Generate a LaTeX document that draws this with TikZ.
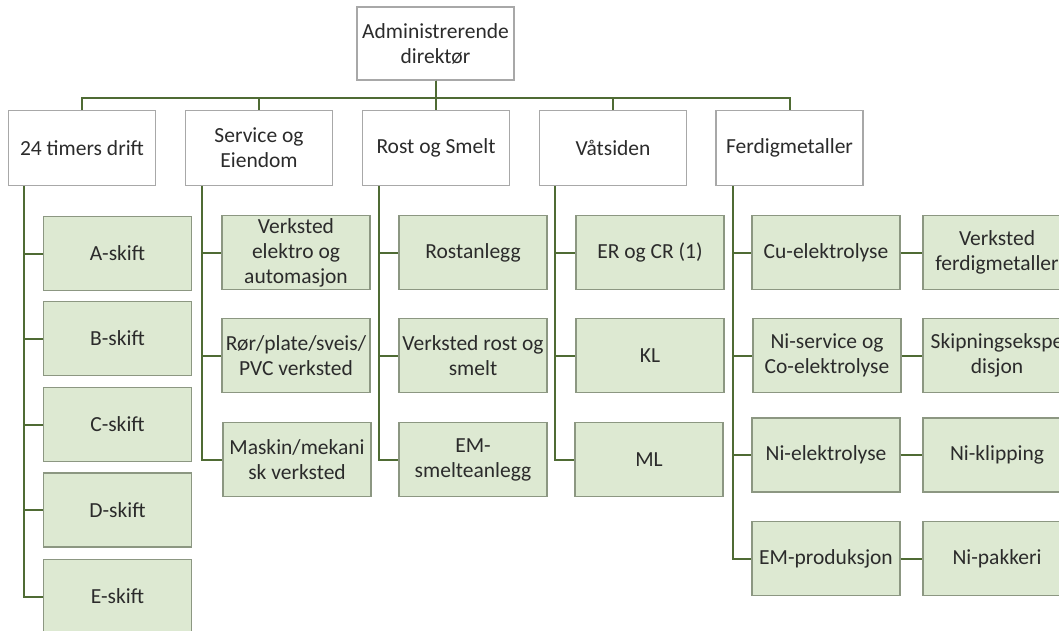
\documentclass[tikz,border=0pt]{standalone}
\usepackage{fontspec}
\setmainfont{Carlito}
\definecolor{txt}{HTML}{2B2B2B}
\definecolor{wborder}{HTML}{A8A8A8}
\definecolor{gborder}{HTML}{8C9782}
\definecolor{gfill}{HTML}{DDE9D2}
\definecolor{orgline}{HTML}{4F6B34}
\begin{document}
\begin{tikzpicture}[x=1pt,y=-1pt,
  font=\fontsize{21.5}{25}\selectfont,
  base/.style={rectangle, align=center, inner sep=2pt, text=txt, line width=1.3pt},
  whitebox/.style={base, draw=wborder, fill=white, minimum width=147pt, minimum height=75pt},
  topbox/.style={whitebox, minimum width=157pt, minimum height=73pt},
  unit/.style={base, draw=gborder, fill=gfill, minimum width=148pt, minimum height=74pt},
  conn/.style={draw=orgline, line width=2pt}]
\useasboundingbox (0,0) rectangle (1059,631);
\clip (0,0) rectangle (1059,631);

% top level
\node[topbox] (top) at (435.5,43.5) {Administrerende\\direktør};

% departments
\node[whitebox] (d1) at (82,148) {24 timers drift};
\node[whitebox] (d2) at (259,148) {Service og\\Eiendom};
\node[whitebox] (d3) at (436,148) {Rost og Smelt};
\node[whitebox] (d4) at (613,148) {Våtsiden};
\node[whitebox] (d5) at (789.5,148) {Ferdigmetaller};

\coordinate (bus) at (0,98);
\foreach \d in {d1,d2,d3,d4,d5}
  \draw[conn] (top.south) -- (top.south |- bus) -| (\d.north);

% 24 timers drift
\node[unit] (a1) at (117.5,253.5) {A-skift};
\node[unit] (a2) at (117.5,338.5) {B-skift};
\node[unit] (a3) at (117.5,424.5) {C-skift};
\node[unit] (a4) at (117.5,510) {D-skift};
\node[unit] (a5) at (117.5,596.5) {E-skift};

% Service og Eiendom
\node[unit] (b1) at (296,252.5) {Verksted\\elektro og\\automasjon};
\node[unit] (b2) at (296,355.5) {Rør/plate/sveis/\\PVC verksted};
\node[unit] (b3) at (297,459.5) {Maskin/mekani\\sk verksted};

% Rost og Smelt
\node[unit] (c1) at (473,252.5) {Rostanlegg};
\node[unit] (c2) at (473,355.5) {Verksted rost og\\smelt};
\node[unit] (c3) at (473,459.5) {EM-\\smelteanlegg};

% Våtsiden
\node[unit] (e1) at (650,252.5) {ER og CR (1)};
\node[unit] (e2) at (650,355.5) {KL};
\node[unit] (e3) at (649,459.5) {ML};

% Ferdigmetaller
\node[unit] (f1) at (826,252.5) {Cu-elektrolyse};
\node[unit] (f2) at (827,355.5) {Ni-service og\\Co-elektrolyse};
\node[unit] (f3) at (826,455) {Ni-elektrolyse};
\node[unit] (f4) at (826,558.5) {EM-produksjon};

\node[unit] (g1) at (997,252.5) {Verksted\\ferdigmetaller};
\node[unit] (g2) at (997,355.5) {Skipningsekspe\\disjon};
\node[unit] (g3) at (997,455) {Ni-klipping};
\node[unit] (g4) at (997,558.5) {Ni-pakkeri};

% branch lines
\coordinate (s1) at (24,186);
\coordinate (s2) at (202,186);
\coordinate (s3) at (379,186);
\coordinate (s4) at (555,186);
\coordinate (s5) at (733,186);
\foreach \c in {a1,a2,a3,a4,a5} \draw[conn] (s1) |- (\c.west);
\foreach \c in {b1,b2,b3} \draw[conn] (s2) |- (\c.west);
\foreach \c in {c1,c2,c3} \draw[conn] (s3) |- (\c.west);
\foreach \c in {e1,e2,e3} \draw[conn] (s4) |- (\c.west);
\foreach \c in {f1,f2,f3,f4} \draw[conn] (s5) |- (\c.west);

\draw[conn] (f1.east) -- (g1.west);
\draw[conn] (f2.east) -- (g2.west);
\draw[conn] (f3.east) -- (g3.west);
\draw[conn] (f4.east) -- (g4.west);
\end{tikzpicture}
\end{document}
